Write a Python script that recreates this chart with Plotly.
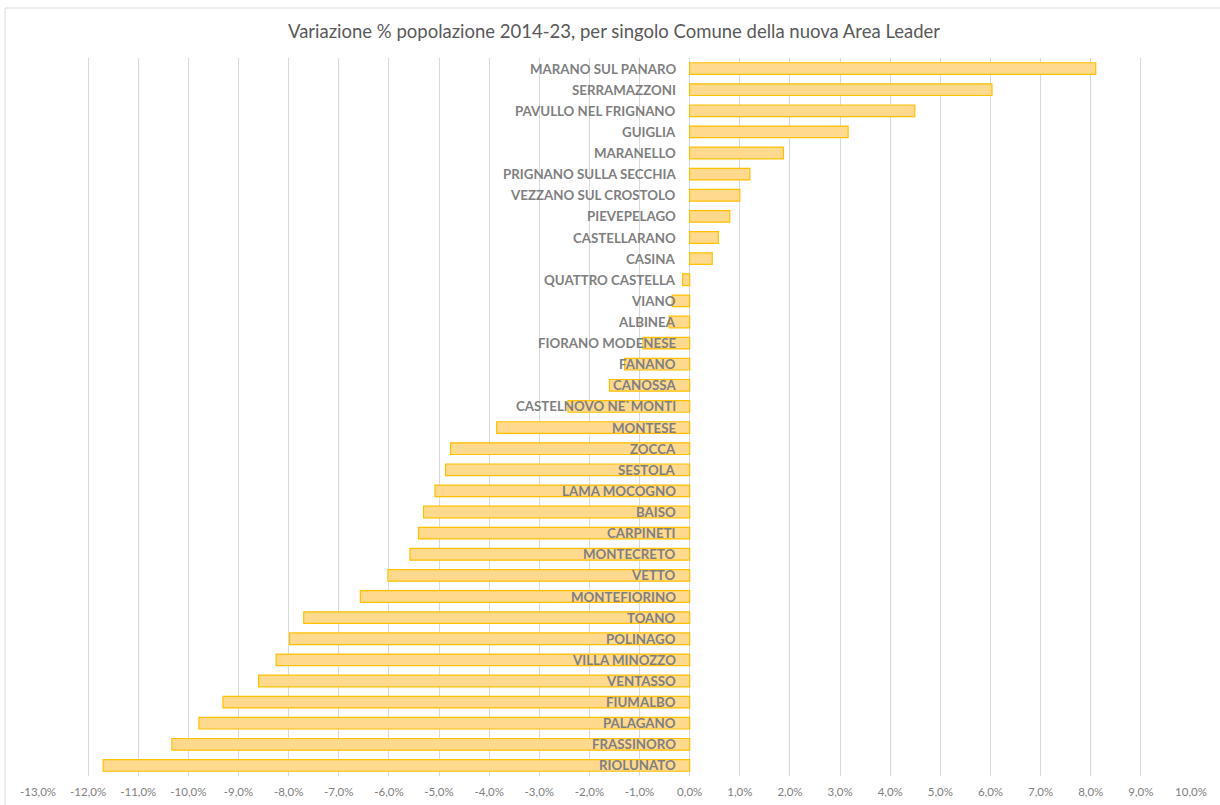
import plotly.graph_objects as go

comuni = [
    "MARANO SUL PANARO", "SERRAMAZZONI", "PAVULLO NEL FRIGNANO", "GUIGLIA",
    "MARANELLO", "PRIGNANO SULLA SECCHIA", "VEZZANO SUL CROSTOLO", "PIEVEPELAGO",
    "CASTELLARANO", "CASINA", "QUATTRO CASTELLA", "VIANO", "ALBINEA",
    "FIORANO MODENESE", "FANANO", "CANOSSA", "CASTELNOVO NE`MONTI", "MONTESE",
    "ZOCCA", "SESTOLA", "LAMA MOCOGNO", "BAISO", "CARPINETI", "MONTECRETO",
    "VETTO", "MONTEFIORINO", "TOANO", "POLINAGO", "VILLA MINOZZO", "VENTASSO",
    "FIUMALBO", "PALAGANO", "FRASSINORO", "RIOLUNATO",
]
variazione = [
    8.10, 6.03, 4.49, 3.16,
    1.87, 1.20, 1.00, 0.80,
    0.57, 0.45, -0.14, -0.35, -0.41,
    -0.93, -1.30, -1.60, -2.43, -3.85,
    -4.77, -4.87, -5.08, -5.31, -5.41, -5.58,
    -6.02, -6.57, -7.70, -7.98, -8.25, -8.60,
    -9.31, -9.79, -10.33, -11.70,
]
tick_vals = list(range(-13, 11))
tick_text = [f"{v:.1f}%".replace(".", ",") for v in tick_vals]
titolo = "Variazione % popolazione 2014-23, per singolo Comune della nuova Area Leader"

W, H = 1220, 805
ML, MR, MT, MB = 38, 29, 58, 29
PW, PH = W - ML - MR, H - MT - MB

fig = go.Figure()
fig.add_trace(go.Bar(
    x=variazione, y=comuni, orientation="h",
    marker=dict(color="#FFD98E", line=dict(color="#FFC000", width=1.2)),
    hoverinfo="x+y",
))

annotations = [
    dict(x=0, y=c, xref="x", yref="y", text=c, showarrow=False,
         xanchor="right", yanchor="middle", xshift=-12,
         font=dict(family="Lato", size=13.3, color="#7F7F7F", weight="bold"))
    for c in comuni
]
annotations.append(dict(
    x=(614 - ML) / PW, y=(H - MB - 31) / PH, xref="paper", yref="paper",
    text=titolo, showarrow=False, xanchor="center", yanchor="middle",
    font=dict(family="Lato", size=18.5, color="#595959"),
))

shapes = [
    dict(type="line", xref="paper", yref="paper",
         x0=(5 - ML) / PW, x1=(1220 - ML) / PW,
         y0=(H - MB - 8) / PH, y1=(H - MB - 8) / PH,
         line=dict(color="#D9D9D9", width=1)),
    dict(type="line", xref="paper", yref="paper",
         x0=(5 - ML) / PW, x1=(5 - ML) / PW,
         y0=(H - MB - 8) / PH, y1=(H - MB - 820) / PH,
         line=dict(color="#D9D9D9", width=1)),
]

fig.update_layout(
    width=W, height=H,
    margin=dict(l=ML, r=MR, t=MT, b=MB),
    paper_bgcolor="white", plot_bgcolor="white",
    bargap=0.45, showlegend=False,
    annotations=annotations, shapes=shapes,
    xaxis=dict(range=[-13, 10], tickvals=tick_vals, ticktext=tick_text,
               showgrid=True, gridcolor="#D9D9D9", gridwidth=1,
               zeroline=False, showline=False, ticks="", ticklabelstandoff=7,
               automargin=False,
               tickfont=dict(family="Lato", size=11.5, color="#808080"),
               fixedrange=True),
    yaxis=dict(autorange="reversed", showticklabels=False, showgrid=False,
               zeroline=False, showline=False, ticks="", fixedrange=True,
               automargin=False),
)

fig.write_html(
    "out.html",
    config={"displayModeBar": False},
    post_script="document.body.style.margin='0px';document.body.style.overflow='hidden';",
)
